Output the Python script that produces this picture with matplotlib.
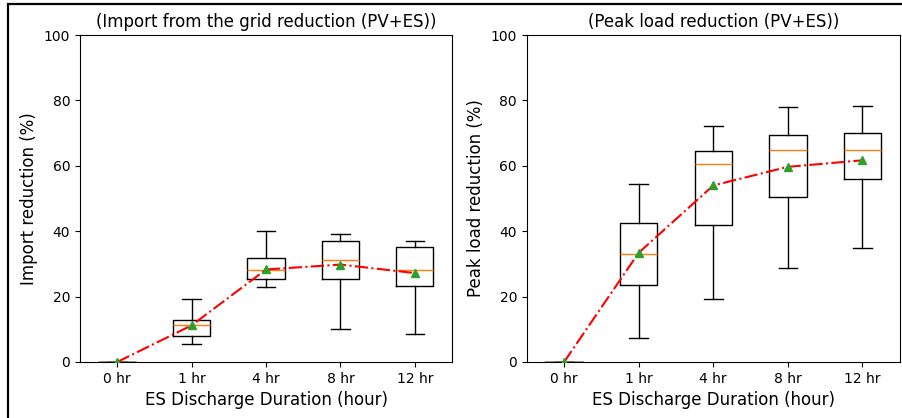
import numpy as np
import matplotlib; matplotlib.use("Agg")
import matplotlib.pyplot as plt
from matplotlib.patches import Rectangle

LABELS=["0 hr","1 hr","4 hr","8 hr","12 hr"]

# import from the grid reduction (%)
imp_lo=[0,5.6,22.9,10.2,8.7]
imp_q1=[0,8.0,25.5,25.5,23.2]
imp_med=[0,11.4,28.1,31.3,28.1]
imp_q3=[0,12.9,31.9,37.1,35.2]
imp_hi=[0,19.4,40.0,39.1,37.1]
imp_mean=[0,11.2,28.3,29.8,27.2]

# peak load reduction (%)
pk_lo=[0,7.3,19.4,28.7,34.9]
pk_q1=[0,23.5,41.8,50.5,55.9]
pk_med=[0,32.9,60.7,64.8,64.8]
pk_q3=[0,42.6,64.6,69.5,70.1]
pk_hi=[0,54.6,72.1,78.0,78.3]
pk_mean=[0,33.4,54.0,59.7,61.7]

def stats(lo,q1,med,q3,hi,mean):
    return [dict(whislo=a,q1=b,med=c,q3=d,whishi=e,mean=f,fliers=[],label=l)
            for a,b,c,d,e,f,l in zip(lo,q1,med,q3,hi,mean,LABELS)]

def panel(ax,st,mean,title,ylab):
    ax.bxp(st,showmeans=True,meanprops=dict(zorder=4))
    ax.plot(range(1,len(mean)+1),mean,"r-.",lw=1.5,zorder=3)
    ax.set_ylim(0,100)
    ax.set_title(title,fontsize=12)
    ax.set_ylabel(ylab,fontsize=12)
    ax.set_xlabel("ES Discharge Duration (hour)",fontsize=12)
    ax.tick_params(labelsize=10)

fig=plt.figure(figsize=(9.02,4.18),dpi=100)
ax1=fig.add_axes([0.0887,0.134,0.4125,0.782])
ax2=fig.add_axes([0.584,0.134,0.4135,0.782])
panel(ax1,stats(imp_lo,imp_q1,imp_med,imp_q3,imp_hi,imp_mean),imp_mean,
      "(Import from the grid reduction (PV+ES))","Import reduction (%)")
panel(ax2,stats(pk_lo,pk_q1,pk_med,pk_q3,pk_hi,pk_mean),pk_mean,
      "(Peak load reduction (PV+ES))","Peak load reduction (%)")

# frame of the screenshot (left and top edges only)
fig.patches.append(Rectangle((8/902,-0.1),1.2,1-4/418+0.1,transform=fig.transFigure,
                             fill=False,ec="black",lw=1.6))
fig.savefig("out.png",dpi=100)
